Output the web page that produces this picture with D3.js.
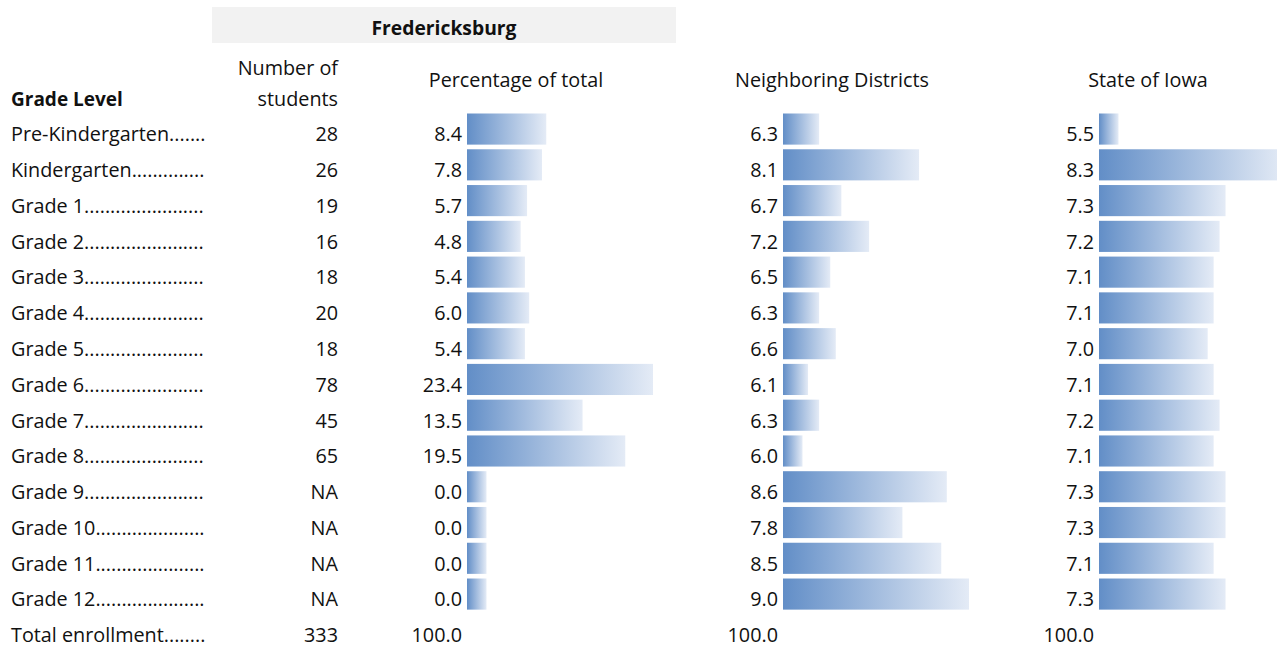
<!DOCTYPE html>
<html><head><meta charset="utf-8">
<script src="https://cdn.jsdelivr.net/npm/d3@7"></script>
<style>body{margin:0;background:#fff}svg{display:block}text{font-family:"Open Sans",Lato,sans-serif;fill:#111}</style>
</head><body>
<script>
const grades = ["Pre-Kindergarten","Kindergarten","Grade 1","Grade 2","Grade 3","Grade 4","Grade 5","Grade 6","Grade 7","Grade 8","Grade 9","Grade 10","Grade 11","Grade 12"];
const students = ["28","26","19","16","18","20","18","78","45","65","NA","NA","NA","NA"];
const pctTotal = [8.4,7.8,5.7,4.8,5.4,6.0,5.4,23.4,13.5,19.5,0.0,0.0,0.0,0.0];
const neighboring = [6.3,8.1,6.7,7.2,6.5,6.3,6.6,6.1,6.3,6.0,8.6,7.8,8.5,9.0];
const iowa = [5.5,8.3,7.3,7.2,7.1,7.1,7.0,7.1,7.2,7.1,7.3,7.3,7.1,7.3];
const totalLabel = "Total enrollment";
const totals = ["333","100.0","100.0","100.0"];
const headers = {title:"Fredericksburg", grade:"Grade Level", num:["Number of","students"], cols:["Percentage of total","Neighboring Districts","State of Iowa"]};

const W=1277,H=647, FS=19.8, STEP=35.77, PAD=0.13;
const svg=d3.select("body").append("svg").attr("width",W).attr("height",H);
const defs=svg.append("defs");
const grad=defs.append("linearGradient").attr("id","bg").attr("x1","0").attr("x2","1").attr("y1","0").attr("y2","0");
grad.append("stop").attr("offset","0").attr("stop-color","#628ec7");
grad.append("stop").attr("offset","1").attr("stop-color","#e4ebf6");

const rows=[...grades,totalLabel];
const y=d3.scaleBand().domain(d3.range(rows.length)).range([113.5,113.5+STEP*(rows.length-PAD)]).paddingInner(PAD).paddingOuter(0);
const BL = d=>y(d)+y.bandwidth()/2+12.3;

// header band
svg.append("rect").attr("x",212).attr("y",7).attr("width",464).attr("height",36).attr("fill","#f2f2f2");
svg.append("text").attr("x",444).attr("y",34.5).attr("text-anchor","middle").attr("font-weight","bold").attr("font-size",FS-0.5).text(headers.title);
svg.append("text").attr("x",11).attr("y",106).attr("font-weight","bold").attr("font-size",FS-0.8).text(headers.grade);
headers.num.forEach((t,i)=>svg.append("text").attr("x",338).attr("y",75+i*31).attr("text-anchor","end").attr("font-size",FS).text(t));
const colCenters=[516,832,1148];
headers.cols.forEach((t,i)=>svg.append("text").attr("x",colCenters[i]).attr("y",86.5).attr("text-anchor","middle").attr("font-size",FS).text(t));

// row labels with dot leaders
const labelRight=207;
rows.forEach((g,i)=>{
  const t=svg.append("text").attr("x",11).attr("y",BL(i)).attr("font-size",FS).text(g);
  let s=g;
  while(true){ t.text(s+"."); if(t.node().getComputedTextLength()>labelRight-11){t.text(s);break;} s+="."; }
});

// students
students.forEach((v,i)=>svg.append("text").attr("x",338).attr("y",BL(i)).attr("text-anchor","end").attr("font-size",FS).text(v));

const cols=[{data:pctTotal,valRight:462,barX:467},{data:neighboring,valRight:778,barX:783},{data:iowa,valRight:1094,barX:1099}];
cols.forEach(c=>{
  const x=d3.scaleLinear().domain(d3.extent(c.data)).range([19.5,186]);
  const g=svg.append("g");
  g.selectAll("rect").data(c.data).join("rect")
    .attr("x",c.barX).attr("y",(d,i)=>y(i)).attr("height",y.bandwidth())
    .attr("width",d=>x(d)).attr("fill","url(#bg)");
  g.selectAll("text").data(c.data).join("text")
    .attr("x",c.valRight).attr("y",(d,i)=>BL(i)).attr("text-anchor","end").attr("font-size",FS)
    .text(d=>d3.format(".1f")(d));
});
// totals
[338,462,778,1094].forEach((xx,i)=>svg.append("text").attr("x",xx).attr("y",BL(rows.length-1)).attr("text-anchor","end").attr("font-size",FS).text(totals[i]));
</script>
</body></html>
